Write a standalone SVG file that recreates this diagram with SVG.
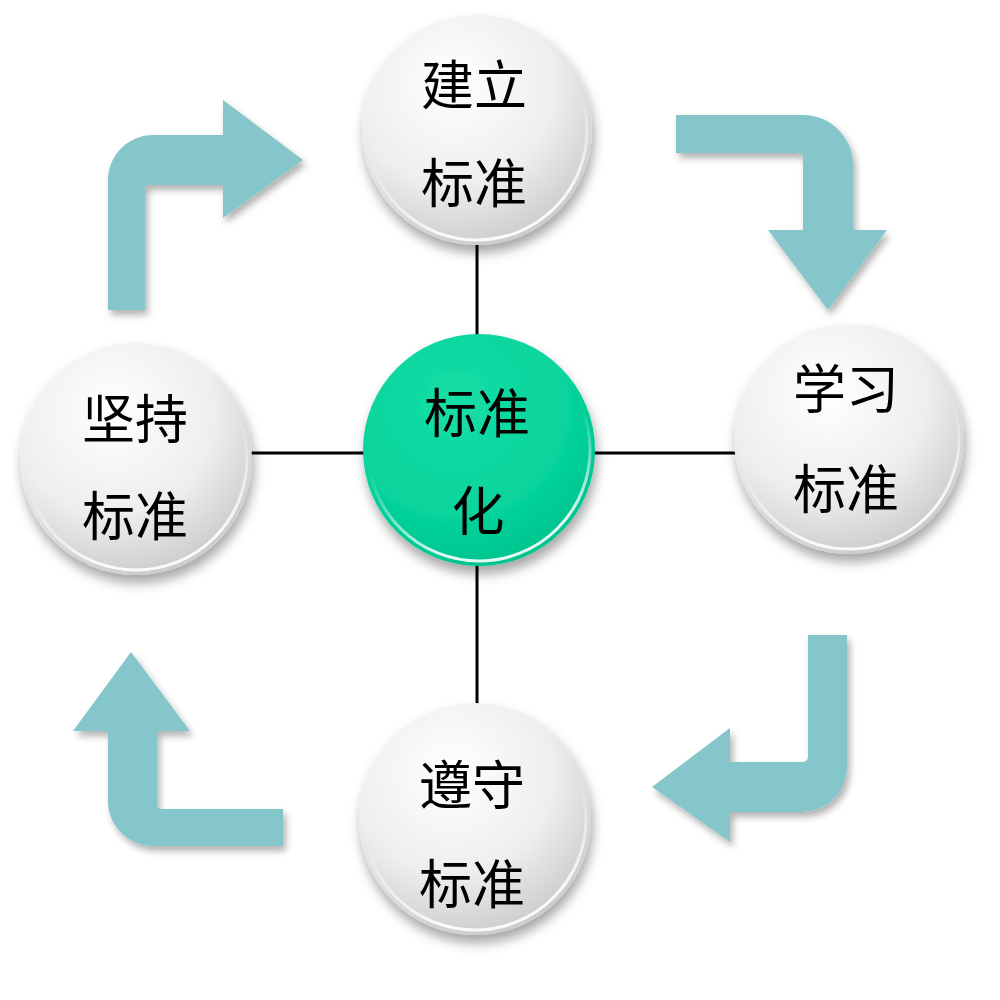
<svg xmlns="http://www.w3.org/2000/svg" width="1000" height="1000" viewBox="0 0 1000 1000">
  <defs>
    <radialGradient id="gGray" cx="0.4" cy="0.3" r="0.8">
      <stop offset="0" stop-color="#ffffff"/>
      <stop offset="0.55" stop-color="#eeeeee"/>
      <stop offset="1" stop-color="#c2c2c2"/>
    </radialGradient>
    <radialGradient id="gGreen" cx="0.4" cy="0.3" r="0.8">
      <stop offset="0" stop-color="#16dea6"/>
      <stop offset="0.6" stop-color="#07d39c"/>
      <stop offset="1" stop-color="#00bf8a"/>
    </radialGradient>
    <linearGradient id="gRim" x1="0" y1="0" x2="0.3" y2="1">
      <stop offset="0" stop-color="#ffffff" stop-opacity="0"/>
      <stop offset="0.55" stop-color="#ffffff" stop-opacity="0"/>
      <stop offset="1" stop-color="#ffffff" stop-opacity="0.9"/>
    </linearGradient>
    <filter id="fShadow" x="-20%" y="-20%" width="140%" height="150%">
      <feDropShadow dx="2" dy="8" stdDeviation="6" flood-color="#000" flood-opacity="0.35"/>
    </filter>
    <filter id="fArrow" x="-20%" y="-20%" width="140%" height="140%">
      <feDropShadow dx="3" dy="5" stdDeviation="3.5" flood-color="#000" flood-opacity="0.3"/>
    </filter>
  </defs>
  <style>
    .link { stroke: #000; stroke-width: 3; fill: none; }
    .arrow { fill: #85c6cb; filter: url(#fArrow); }
    .ball { fill: url(#gGray); filter: url(#fShadow); }
    .ball-c { fill: url(#gGreen); filter: url(#fShadow); }
    .rim { fill: none; stroke: url(#gRim); stroke-width: 3; }
    .lbl { font-family: "Noto Sans CJK SC", "Noto Sans", sans-serif; font-size: 53px; fill: #000; text-anchor: middle; dominant-baseline: central; }
  </style>
  <rect width="1000" height="1000" fill="#ffffff"/>

  <g id="connectors">
    <line class="link" x1="477" y1="240" x2="477" y2="340"/>
    <line class="link" x1="477" y1="560" x2="477" y2="708"/>
    <line class="link" x1="248" y1="453" x2="368" y2="453"/>
    <line class="link" x1="590" y1="453" x2="740" y2="453"/>
    <g id="cycle-arrows">
      <path class="arrow" d="M108,310 L108,180 A45,45 0 0 1 153,135 L223,135 L223,100 L303,160 L223,218 L223,185 L150,185 A5,5 0 0 0 145,190 L145,310 Z"/>
      <path class="arrow" d="M676,115 L803,115 A50,50 0 0 1 853,165 L853,230 L887,230 L828,310 L768,230 L803,230 L803,158 A5,5 0 0 0 798,153 L676,153 Z"/>
      <path class="arrow" d="M808,635 L847,635 L847,767 A45,45 0 0 1 802,812 L730,812 L730,842 L652,787 L730,728 L730,762 L803,762 A5,5 0 0 0 808,757 Z"/>
      <path class="arrow" d="M283,809 L283,846 L153,846 A45,45 0 0 1 108,801 L108,731 L73,731 L131,652 L190,731 L157,731 L157,804 A5,5 0 0 0 162,809 Z"/>
    </g>
  </g>

  <g id="node-top">
    <circle class="ball" cx="477" cy="130" r="115"/>
    <circle class="rim" cx="477" cy="130" r="110"/>
    <text class="lbl" x="474" y="82">建立</text>
    <text class="lbl" x="474" y="180">标准</text>
  </g>
  <g id="node-center">
    <circle class="ball-c" cx="479" cy="450" r="116"/>
    <circle class="rim" cx="479" cy="450" r="111"/>
    <text class="lbl" x="477" y="410">标准</text>
    <text class="lbl" x="478" y="508">化</text>
  </g>
  <g id="node-left">
    <circle class="ball" cx="136" cy="459" r="116"/>
    <circle class="rim" cx="136" cy="459" r="111"/>
    <text class="lbl" x="135" y="416">坚持</text>
    <text class="lbl" x="135" y="513">标准</text>
  </g>
  <g id="node-right">
    <circle class="ball" cx="849" cy="439" r="115"/>
    <circle class="rim" cx="849" cy="439" r="110"/>
    <text class="lbl" x="846" y="386">学习</text>
    <text class="lbl" x="846" y="486">标准</text>
  </g>
  <g id="node-bottom">
    <circle class="ball" cx="475" cy="819" r="116"/>
    <circle class="rim" cx="475" cy="819" r="111"/>
    <text class="lbl" x="472" y="782">遵守</text>
    <text class="lbl" x="472" y="881">标准</text>
  </g>
</svg>
